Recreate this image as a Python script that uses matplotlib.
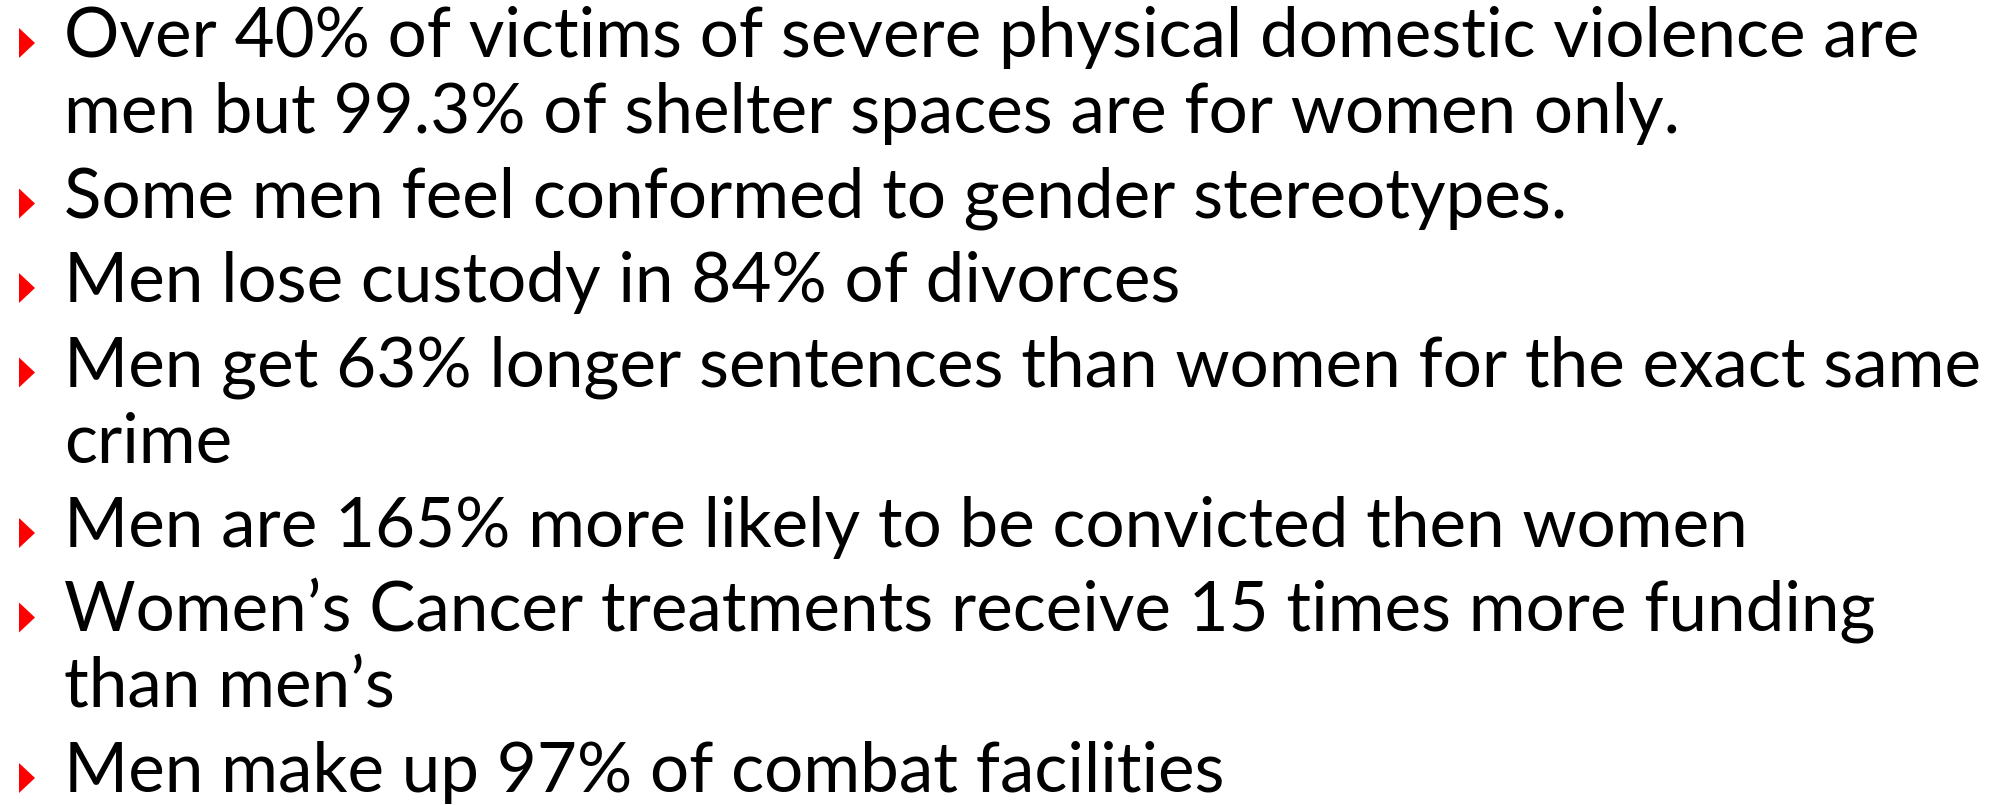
import matplotlib
matplotlib.use("Agg")
import matplotlib.pyplot as plt
from matplotlib.patches import Polygon

# Slide content: each bullet is a list of its wrapped lines
bullets = [
    ["Over 40% of victims of severe physical domestic violence are",
     "men but 99.3% of shelter spaces are for women only."],
    ["Some men feel conformed to gender stereotypes."],
    ["Men lose custody in 84% of divorces"],
    ["Men get 63% longer sentences than women for the exact same",
     "crime"],
    ["Men are 165% more likely to be convicted then women"],
    ["Women\u2019s Cancer treatments receive 15 times more funding",
     "than men\u2019s"],
    ["Men make up 97% of combat facilities"],
]

W, H = 2006, 805
fig = plt.figure(figsize=(W / 100, H / 100), dpi=100)
ax = fig.add_axes([0, 0, 1, 1])
ax.set_xlim(0, W)
ax.set_ylim(H, 0)
ax.axis("off")

font = "Lato"
text_x = 64
target_width = 1914  # pixel width of the widest line
first_base = 57
wrap_step = 76
bullet_step = 84.5

# fit font size so the widest line matches the reference
fig.canvas.draw()
renderer = fig.canvas.get_renderer()
w40 = 0
for b in bullets:
    for line in b:
        probe = ax.text(0, 0, line, fontsize=40, family=font)
        w40 = max(w40, probe.get_window_extent(renderer).width)
        probe.remove()
fs = 40 * target_width / w40

y = first_base
for b in bullets:
    tri = Polygon([(19, y - 29), (19, y + 1), (35, y - 14)],
                  closed=True, color="#ff0000", lw=0)
    ax.add_patch(tri)
    for i, line in enumerate(b):
        if i > 0:
            y += wrap_step
        ax.text(text_x, y, line, fontsize=fs, family=font,
                va="baseline", ha="left", color="black")
    y += bullet_step

fig.savefig("out.png", dpi=100, facecolor="white")
